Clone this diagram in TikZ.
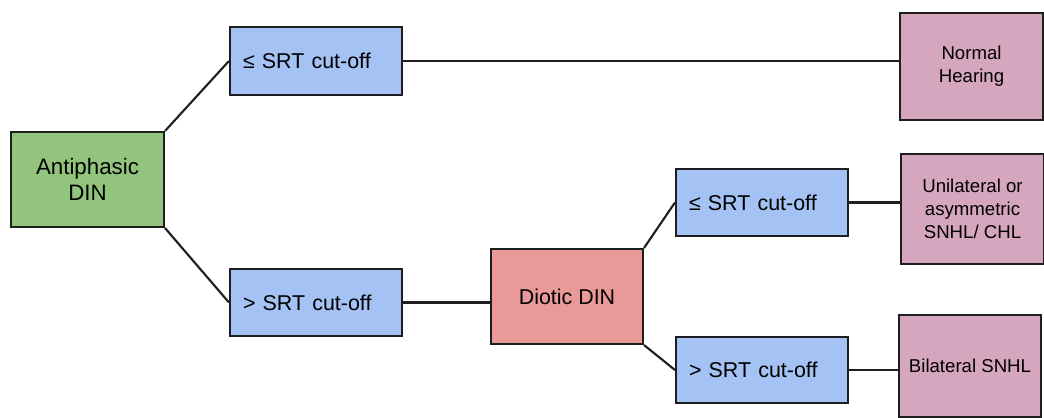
\documentclass[tikz,border=0pt]{standalone}
\usepackage{fontspec}
\setmainfont{Liberation Sans}
\definecolor{startgreen}{RGB}{147,196,125}
\definecolor{cutblue}{RGB}{164,194,244}
\definecolor{dioticred}{RGB}{234,153,153}
\definecolor{resultpink}{RGB}{213,166,189}
\definecolor{edgegrey}{RGB}{30,30,30}
\tikzset{
    box/.style={draw=edgegrey,line width=1.2pt,inner sep=0pt},
    cutbox/.style={box,fill=cutblue,text width=2.92cm,inner xsep=.26cm,align=left,minimum height=1.35cm,font=\fontsize{12.2}{14}\selectfont},
    resultbox/.style={box,fill=resultpink,minimum width=2.85cm,align=center,font=\fontsize{10.6}{13}\selectfont},
    link/.style={draw=edgegrey,line width=1.2pt}
}
\begin{document}
\begin{tikzpicture}[x=.02cm,y=-.02cm]
                \useasboundingbox (0,0) rectangle (1044,418);
                \node[box,fill=startgreen,minimum width=3.06cm,minimum height=1.9cm,align=center,font=\fontsize{12.7}{14.5}\selectfont] (anti) at (87.5,179.5) {Antiphasic\\DIN};
                \node[cutbox] (lowA) at (316,61) {≤ SRT cut-off};
                \node[cutbox] (highA) at (316,302.5) {> SRT cut-off};
                \node[box,fill=dioticred,minimum width=3.04cm,minimum height=1.9cm,font=\fontsize{12.2}{14}\selectfont] (diotic) at (567,296.5) {Diotic DIN};
                \node[cutbox] (lowB) at (762,202.5) {≤ SRT cut-off};
                \node[cutbox,minimum height=1.32cm] (highB) at (762,370) {> SRT cut-off};
                \node[resultbox,minimum height=2.14cm] (normal) at (971.5,66.5) {Normal\\Hearing};
                \node[resultbox,minimum height=2.2cm] (uni) at (972.5,209) {Unilateral or\\asymmetric\\SNHL/ CHL};
                \node[resultbox,minimum height=2.04cm] (bil) at (970,366) {Bilateral SNHL};
                \draw[link] (anti.north east) -- (lowA.west);
                \draw[link] (anti.south east) -- (highA.west);
                \draw[link] (diotic.north east) -- (lowB.west);
                \draw[link] (diotic.south east) -- (highB.west);
                \foreach \from/\to in {highA/diotic,lowA/normal,lowB/uni,highB/bil}
                {
                    \draw[link] (\from.east) -- (\from.east -| \to.west);
                }
            \end{tikzpicture}
\end{document}
